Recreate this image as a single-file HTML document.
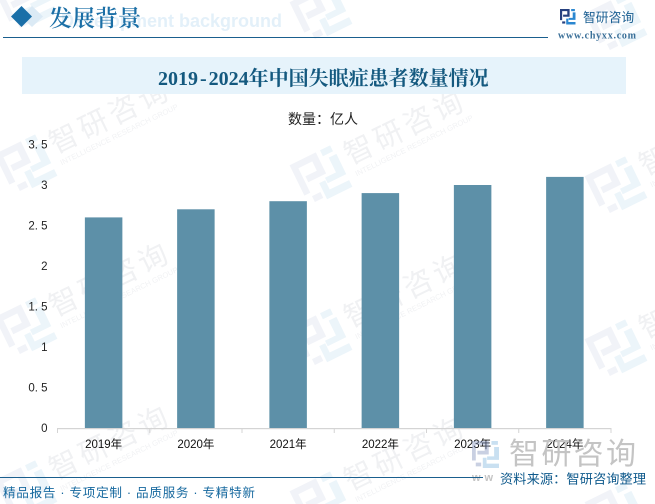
<!DOCTYPE html>
<html lang="zh">
<head>
<meta charset="utf-8">
<title>2019-2024年中国失眠症患者数量情况</title>
<style>
html,body{margin:0;padding:0;background:#fff;overflow:hidden}
#page{position:relative;width:655px;height:504px;overflow:hidden;background:#fff}
svg{position:absolute;left:0;top:0}
</style>
</head>
<body>
<div id="page">
<svg id="root" width="655" height="504" viewBox="0 0 655 504" xmlns="http://www.w3.org/2000/svg">
  <defs>
    <g id="mark-left"><path d="M0 0H62V50H20V36H47V14H14V72H0Z"/><path d="M14 80H34V94H14Z"/></g>
    <g id="mark-right"><path d="M72 0H96V14H72Z"/><path d="M82 22H100V70H56V57H82Z"/><path d="M40 62H54V84H100V100H40Z"/></g>
  </defs>

  <g id="watermarks"></g>

  <!-- header -->
  <path d="M32 6L43 16.5L32 27L21 16.5Z" fill="#dbeaf5"/>
  <path d="M21.5 6L32 16.5L21.5 27L11 16.5Z" fill="#1a6fa8"/>
  <text x="61" y="27" font-family="'Liberation Sans',sans-serif" font-weight="700" font-size="18" fill="#e3f0f9">Development background</text>
  <text x="49" y="26" font-family="'Liberation Serif','Noto Serif CJK SC',serif" font-weight="600" font-size="23" fill="#1b6fa6">发展背景</text>
  <rect x="3" y="37" width="545" height="1" fill="#1a5f8e"/>

  <!-- brand -->
  <g transform="translate(560 9) scale(.155)">
    <use href="#mark-left" fill="#26407f"/><use href="#mark-right" fill="#2b87d0"/>
  </g>
  <text x="583" y="22" font-family="'Noto Sans CJK SC',sans-serif" font-size="12.8" fill="#1b5f92">智研咨询</text>
  <text x="558" y="38.5" font-family="'Liberation Serif',serif" font-weight="700" font-size="10" fill="#3a6f98" textLength="78">www.chyxx.com</text>

  <!-- title band -->
  <rect x="22" y="57" width="604" height="37" fill="#e6f3fb"/>
  <text x="158" y="85" font-family="'Liberation Serif','Noto Serif CJK SC',serif" font-weight="700" font-size="20" fill="#14597f">2019<tspan dx="2">-</tspan><tspan dx="2">2024年中国失眠症患者数量情况</tspan></text>

  <text x="323" y="124" text-anchor="middle" font-family="'Liberation Sans','Noto Sans CJK SC',sans-serif" font-size="14" fill="#222">数量：亿人</text>

  <g id="plot"></g>

  <!-- bottom-right brand watermark -->
  <g transform="translate(472 441) scale(.27)" opacity=".42">
    <use href="#mark-left" fill="#7f90bc"/><use href="#mark-right" fill="#7fb6e0"/>
  </g>
  <text x="509" y="464" font-family="'Noto Sans CJK SC',sans-serif" font-size="30" fill="#c4c4c4" textLength="127">智研咨询</text>
  <text x="472" y="481" font-family="'Liberation Sans',sans-serif" font-weight="700" font-size="11" fill="#c4c4c4" letter-spacing="4">ww</text>

  <!-- footer -->
  <rect x="0" y="477" width="483" height="1" fill="#1a5f8e"/>
  <text x="500" y="483.5" font-family="'Liberation Sans','Noto Sans CJK SC',sans-serif" font-size="13.2" fill="#0f5a8c" textLength="146">资料来源：智研咨询整理</text>
  <text x="3" y="497" font-family="'Liberation Sans','Noto Sans CJK SC',sans-serif" font-size="12.6" fill="#17699f" textLength="252">精品报告 · 专项定制 · 品质服务 · 专精特新</text>
</svg>
</div>
<script>
const categories = ['2019年','2020年','2021年','2022年','2023年','2024年'];
const patientValues = [2.6,2.7,2.8,2.9,3.0,3.1];
const yTickValues = [0,0.5,1,1.5,2,2.5,3,3.5];
const yTickLabels = ['0','0. 5','1','1. 5','2','2. 5','3','3. 5'];

const NS = 'http://www.w3.org/2000/svg';
const plotLeft = 57.5, plotRight = 611, plotBase = 428, pxPerUnit = 81, barWidth = 37.5;
const bandWidth = (plotRight - plotLeft) / categories.length;
function xCenter(i){ return plotLeft + bandWidth * (i + 0.5); }
function yPos(v){ return plotBase - v * pxPerUnit; }
function make(tag, attrs, text){
  const el = document.createElementNS(NS, tag);
  for (const k in attrs) el.setAttribute(k, attrs[k]);
  if (text !== undefined) el.textContent = text;
  return el;
}
const plot = document.getElementById('plot');
const FONT = "'Liberation Sans','Noto Sans CJK SC',sans-serif";

patientValues.forEach(function(v, i){
  const bar = make('rect', {x: xCenter(i) - barWidth / 2, y: yPos(v), width: barWidth, height: plotBase - yPos(v), fill: '#5d90a8'});
  
  
  plot.appendChild(bar);
});

const axisLine = make('rect', {x: plotLeft, y: plotBase, width: plotRight - plotLeft, height: 1.2, fill: '#d4d4d4'});


plot.appendChild(axisLine);

for (let i = 0; i <= categories.length; i++) {
  const tick = make('rect', {x: plotLeft + bandWidth * i - 0.5, y: plotBase, width: 1, height: 5, fill: '#d4d4d4'});
  
  
  plot.appendChild(tick);
}

categories.forEach(function(c, i){
  const label = make('text', {x: xCenter(i), y: 448, 'text-anchor': 'middle', 'font-family': FONT, 'font-size': 11.5, fill: '#111'}, c);
  
  
  plot.appendChild(label);
});

yTickValues.forEach(function(v, i){
  const label = make('text', {x: 47.5, y: yPos(v) + 4, 'text-anchor': 'end', 'font-family': FONT, 'font-size': 11.5, fill: '#222'}, yTickLabels[i]);
  
  
  plot.appendChild(label);
});

/* repeating background watermark; logo polygons are clipped to the page edge */
const markLeftPolys = [[[0,0],[62,0],[62,50],[20,50],[20,36],[47,36],[47,14],[14,14],[14,72],[0,72]],[[14,80],[34,80],[34,94],[14,94]]];
const markRightPolys = [[[72,0],[96,0],[96,14],[72,14]],[[82,22],[100,22],[100,70],[56,70],[56,57],[82,57]],[[40,62],[54,62],[54,84],[100,84],[100,100],[40,100]]];
function clipEdge(pts, inside, cross){
  const out = [];
  for (let i = 0; i < pts.length; i++) {
    const a = pts[i], b = pts[(i + 1) % pts.length];
    if (inside(a)) out.push(a);
    if (inside(a) !== inside(b)) out.push(cross(a, b));
  }
  return out;
}
function clipToPage(pts){
  const atY = function(Y){ return function(a, b){ const t = (Y - a[1]) / (b[1] - a[1]); return [a[0] + t * (b[0] - a[0]), Y]; }; };
  const atX = function(X){ return function(a, b){ const t = (X - a[0]) / (b[0] - a[0]); return [X, a[1] + t * (b[1] - a[1])]; }; };
  let p = clipEdge(pts, function(q){ return q[1] <= 504; }, atY(504));
  if (p.length) p = clipEdge(p, function(q){ return q[1] >= 0; }, atY(0));
  if (p.length) p = clipEdge(p, function(q){ return q[0] >= 0; }, atX(0));
  if (p.length) p = clipEdge(p, function(q){ return q[0] <= 655; }, atX(655));
  return p;
}
function logoPath(polys, cx, cy){
  const s = 0.47, th = -26 * Math.PI / 180, co = Math.cos(th), si = Math.sin(th);
  let d = '';
  polys.forEach(function(poly){
    const abs = poly.map(function(q){
      const x = (q[0] - 50) * s, y = (q[1] - 50) * s;
      return [cx + x * co - y * si, cy + x * si + y * co];
    });
    const c = clipToPage(abs);
    if (c.length > 2) d += 'M' + c.map(function(q){ return q[0].toFixed(1) + ' ' + q[1].toFixed(1); }).join('L') + 'Z';
  });
  return d;
}
const wmLayer = document.getElementById('watermarks');
for (let r = 0; r < 4; r++) {
  for (let c = 0; c < 3; c++) {
    const cx = 26 + c * 295;
    const cy = 2 + r * 163 + c * 11;
    const g = make('g', {});
    
    
    const dl = logoPath(markLeftPolys, cx, cy), dr = logoPath(markRightPolys, cx, cy);
    if (dl) g.appendChild(make('path', {d: dl, fill: '#f1f3f8'}));
    if (dr) g.appendChild(make('path', {d: dr, fill: '#ecf5fa'}));
    const hasText = r > 0 && !(r === 3 && c === 2);
    if (hasText) {
      const tf = 'translate(' + cx + ' ' + cy + ') rotate(-26)';
      g.appendChild(make('text', {x: 31, y: 3, transform: tf, 'font-family': "'Noto Sans CJK SC',sans-serif", 'font-size': 29, fill: '#f0f1f3', textLength: 128}, '智研咨询'));
      g.appendChild(make('text', {x: 32, y: 16, transform: tf, 'font-family': "'Liberation Sans',sans-serif", 'font-size': 7.5, fill: '#f1f2f4', textLength: 130}, 'INTELLIGENCE RESEARCH GROUP'));
    }
    wmLayer.appendChild(g);
  }
}
</script>
</body>
</html>
